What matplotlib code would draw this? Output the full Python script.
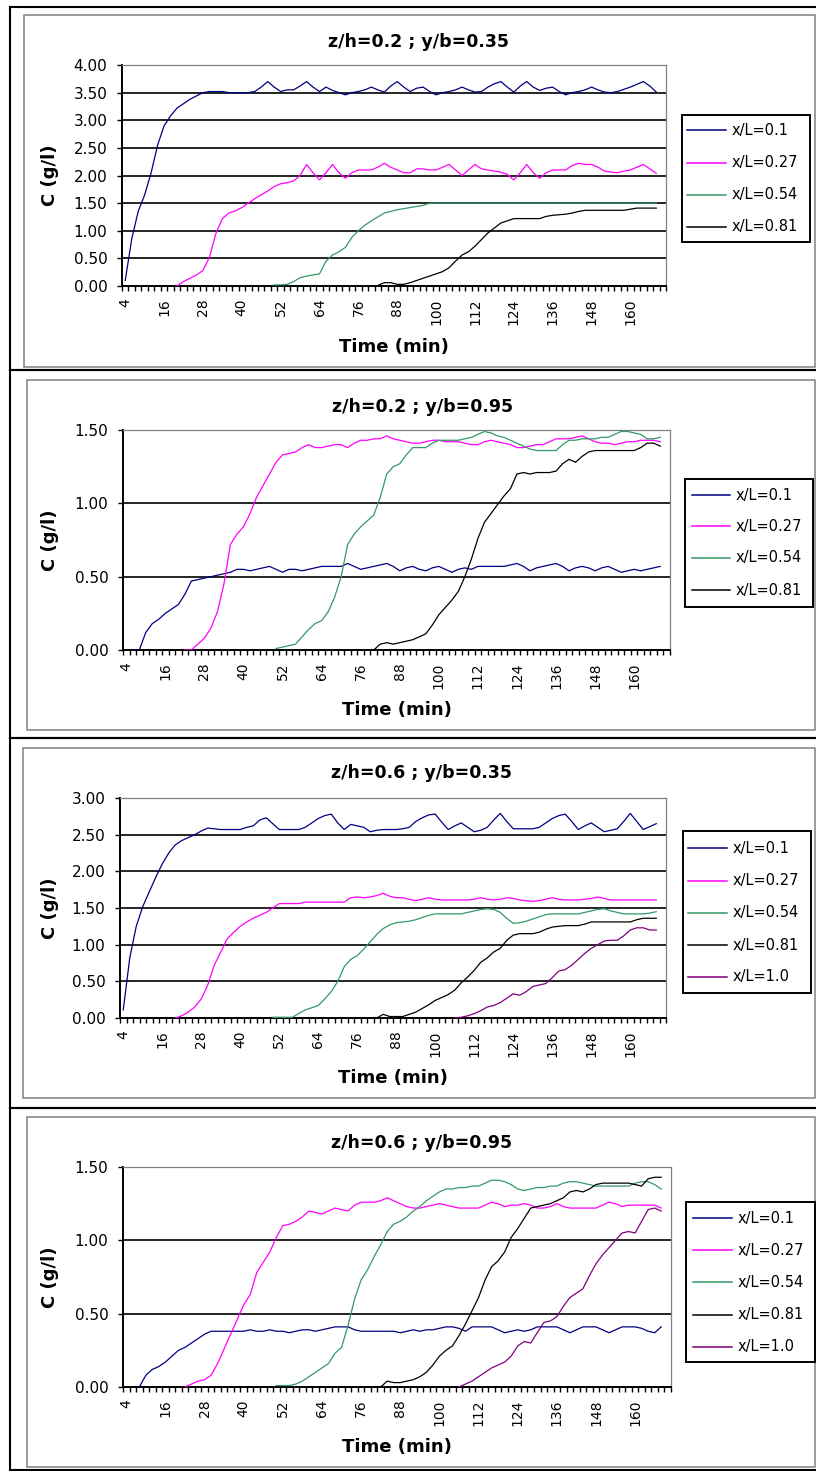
import matplotlib
matplotlib.use("Agg")
import matplotlib.pyplot as plt
from matplotlib.lines import Line2D
from matplotlib.patches import Rectangle

W, H, DPI = 816, 1471, 100

# Category axis: sampling every 2 minutes, labelled every 12 minutes
TIMES = list(range(4, 171, 2))
LABEL_EVERY = 6

SERIES_NAMES = ["x/L=0.1", "x/L=0.27", "x/L=0.54", "x/L=0.81", "x/L=1.0"]
COLORS = ["#000080", "#FF00FF", "#339966", "#000000", "#800080"]

# ---- z/h=0.2 ; y/b=0.35 -------------------------------------------------
P1_START = [4, 20, 50, 82]
P1_X01 = [0.10, 0.85, 1.35, 1.65, 2.05, 2.55, 2.90, 3.08, 3.22, 3.30,
          3.38, 3.44, 3.50, 3.52, 3.52, 3.52, 3.50, 3.50, 3.50, 3.50,
          3.52, 3.60, 3.70, 3.60, 3.52, 3.55, 3.55, 3.62, 3.70, 3.60,
          3.52, 3.60, 3.54, 3.50, 3.46, 3.50, 3.52, 3.55, 3.60, 3.55,
          3.51, 3.62, 3.70, 3.60, 3.52, 3.58, 3.60, 3.52, 3.46, 3.50,
          3.52, 3.55, 3.60, 3.55, 3.51, 3.52, 3.60, 3.66, 3.70, 3.60,
          3.51, 3.62, 3.70, 3.60, 3.54, 3.58, 3.60, 3.52, 3.46, 3.50,
          3.52, 3.55, 3.60, 3.55, 3.51, 3.50, 3.52, 3.56, 3.60, 3.65,
          3.70, 3.62, 3.51]
P1_X027 = [0.00, 0.08, 0.14, 0.20, 0.28, 0.52, 0.95, 1.22, 1.32, 1.36,
           1.42, 1.50, 1.58, 1.65, 1.72, 1.80, 1.85, 1.87, 1.90, 2.00,
           2.20, 2.05, 1.92, 2.05, 2.20, 2.05, 1.95, 2.05, 2.10, 2.10,
           2.10, 2.15, 2.22, 2.15, 2.10, 2.05, 2.05, 2.12, 2.12, 2.10,
           2.10, 2.15, 2.20, 2.10, 2.00, 2.10, 2.20, 2.12, 2.10, 2.08,
           2.06, 2.02, 1.92, 2.05, 2.20, 2.05, 1.95, 2.05, 2.10, 2.10,
           2.10, 2.18, 2.22, 2.20, 2.20, 2.15, 2.08, 2.06, 2.05, 2.08,
           2.10, 2.15, 2.20, 2.12, 2.04]
P1_X054 = [0.02, 0.02, 0.03, 0.08, 0.15, 0.18, 0.20, 0.22, 0.45, 0.56,
           0.62, 0.70, 0.88, 1.00, 1.10, 1.18, 1.25, 1.32, 1.35, 1.38,
           1.40, 1.42, 1.44, 1.46, 1.50, 1.50, 1.50, 1.50, 1.50, 1.50,
           1.50, 1.50, 1.50, 1.50, 1.50, 1.50, 1.50, 1.50, 1.50, 1.50,
           1.50, 1.50, 1.50, 1.50, 1.50, 1.50, 1.50, 1.50, 1.50, 1.50,
           1.50, 1.50, 1.50, 1.50, 1.50, 1.50, 1.50, 1.50, 1.50, 1.50]
P1_X081 = [0.01, 0.06, 0.06, 0.03, 0.03, 0.06, 0.10, 0.14, 0.18, 0.22,
           0.26, 0.33, 0.45, 0.56, 0.62, 0.72, 0.84, 0.96, 1.05, 1.14,
           1.18, 1.22, 1.22, 1.22, 1.22, 1.22, 1.26, 1.28, 1.29, 1.30,
           1.32, 1.35, 1.37, 1.37, 1.37, 1.37, 1.37, 1.37, 1.37, 1.39,
           1.41, 1.41, 1.41, 1.41]

# ---- z/h=0.2 ; y/b=0.95 -------------------------------------------------
P2_START = [6, 22, 50, 74]
P2_X01 = [0.00, 0.00, 0.12, 0.18, 0.21, 0.25, 0.28, 0.31, 0.38, 0.47,
          0.48, 0.49, 0.50, 0.51, 0.52, 0.53, 0.55, 0.55, 0.54, 0.55,
          0.56, 0.57, 0.55, 0.53, 0.55, 0.55, 0.54, 0.55, 0.56, 0.57,
          0.57, 0.57, 0.57, 0.59, 0.57, 0.55, 0.56, 0.57, 0.58, 0.59,
          0.57, 0.54, 0.56, 0.57, 0.55, 0.54, 0.56, 0.57, 0.55, 0.53,
          0.55, 0.56, 0.55, 0.57, 0.57, 0.57, 0.57, 0.57, 0.58, 0.59,
          0.57, 0.54, 0.56, 0.57, 0.58, 0.59, 0.57, 0.54, 0.56, 0.57,
          0.56, 0.54, 0.56, 0.57, 0.55, 0.53, 0.54, 0.55, 0.54, 0.55,
          0.56, 0.57]
P2_X027 = [0.00, 0.00, 0.04, 0.08, 0.15, 0.26, 0.45, 0.72, 0.79, 0.84,
           0.93, 1.04, 1.12, 1.20, 1.28, 1.33, 1.34, 1.35, 1.38, 1.40,
           1.38, 1.38, 1.39, 1.40, 1.40, 1.38, 1.41, 1.43, 1.43, 1.44,
           1.44, 1.46, 1.44, 1.43, 1.42, 1.41, 1.41, 1.42, 1.43, 1.43,
           1.42, 1.42, 1.42, 1.41, 1.40, 1.40, 1.42, 1.43, 1.42, 1.41,
           1.40, 1.38, 1.38, 1.39, 1.40, 1.40, 1.42, 1.44, 1.44, 1.44,
           1.45, 1.46, 1.44, 1.42, 1.41, 1.41, 1.40, 1.41, 1.42, 1.42,
           1.43, 1.43, 1.43, 1.42]
P2_X054 = [0.01, 0.02, 0.03, 0.04, 0.09, 0.14, 0.18, 0.20, 0.26, 0.36,
           0.50, 0.72, 0.79, 0.84, 0.88, 0.92, 1.04, 1.20, 1.25, 1.27,
           1.33, 1.38, 1.38, 1.38, 1.41, 1.43, 1.43, 1.43, 1.43, 1.44,
           1.45, 1.47, 1.49, 1.48, 1.46, 1.45, 1.43, 1.41, 1.39, 1.37,
           1.36, 1.36, 1.36, 1.36, 1.40, 1.43, 1.43, 1.44, 1.44, 1.44,
           1.45, 1.45, 1.47, 1.49, 1.49, 1.48, 1.47, 1.44, 1.44, 1.45]
P2_X081 = [0.00, 0.00, 0.00, 0.00, 0.04, 0.05, 0.04, 0.05, 0.06, 0.07,
           0.09, 0.11, 0.17, 0.24, 0.29, 0.34, 0.40, 0.50, 0.62, 0.76,
           0.87, 0.93, 0.99, 1.05, 1.10, 1.20, 1.21, 1.20, 1.21, 1.21,
           1.21, 1.22, 1.27, 1.30, 1.28, 1.32, 1.35, 1.36, 1.36, 1.36,
           1.36, 1.36, 1.36, 1.36, 1.38, 1.41, 1.41, 1.39]

# ---- z/h=0.6 ; y/b=0.35 -------------------------------------------------
P3_START = [4, 20, 50, 82, 106]
P3_X01 = [0.11, 0.82, 1.25, 1.52, 1.72, 1.92, 2.10, 2.25, 2.36, 2.42,
          2.46, 2.50, 2.55, 2.59, 2.58, 2.57, 2.57, 2.57, 2.57, 2.60,
          2.62, 2.70, 2.73, 2.65, 2.57, 2.57, 2.57, 2.57, 2.60, 2.66,
          2.72, 2.76, 2.78, 2.66, 2.57, 2.64, 2.62, 2.60, 2.54, 2.56,
          2.57, 2.57, 2.57, 2.58, 2.60, 2.68, 2.73, 2.77, 2.78, 2.67,
          2.57, 2.62, 2.66, 2.60, 2.54, 2.56, 2.60, 2.70, 2.79, 2.68,
          2.58, 2.58, 2.58, 2.58, 2.60, 2.66, 2.72, 2.76, 2.78, 2.68,
          2.57, 2.62, 2.66, 2.60, 2.54, 2.56, 2.58, 2.68, 2.79, 2.68,
          2.57, 2.61, 2.65]
P3_X027 = [0.00, 0.03, 0.08, 0.15, 0.26, 0.45, 0.72, 0.90, 1.08, 1.17,
           1.25, 1.31, 1.36, 1.40, 1.44, 1.50, 1.56, 1.56, 1.56, 1.56,
           1.58, 1.58, 1.58, 1.58, 1.58, 1.58, 1.58, 1.64, 1.65, 1.64,
           1.65, 1.67, 1.70, 1.66, 1.64, 1.64, 1.62, 1.60, 1.62, 1.64,
           1.62, 1.61, 1.61, 1.61, 1.61, 1.61, 1.62, 1.64, 1.62, 1.61,
           1.62, 1.64, 1.63, 1.61, 1.60, 1.59, 1.60, 1.62, 1.64, 1.62,
           1.61, 1.61, 1.61, 1.62, 1.63, 1.65, 1.63, 1.61, 1.61, 1.61,
           1.61, 1.61, 1.61, 1.61, 1.61]
P3_X054 = [0.01, 0.01, 0.01, 0.01, 0.06, 0.11, 0.14, 0.17, 0.26, 0.36,
           0.50, 0.70, 0.80, 0.85, 0.94, 1.04, 1.14, 1.22, 1.27, 1.30,
           1.31, 1.32, 1.34, 1.37, 1.40, 1.42, 1.42, 1.42, 1.42, 1.42,
           1.44, 1.46, 1.48, 1.49, 1.48, 1.44, 1.36, 1.29, 1.30, 1.32,
           1.35, 1.38, 1.41, 1.42, 1.42, 1.42, 1.42, 1.42, 1.44, 1.46,
           1.48, 1.49, 1.46, 1.44, 1.42, 1.42, 1.42, 1.42, 1.43, 1.45]
P3_X081 = [0.00, 0.05, 0.02, 0.02, 0.02, 0.05, 0.08, 0.13, 0.18, 0.24,
           0.28, 0.32, 0.38, 0.48, 0.56, 0.65, 0.76, 0.82, 0.90, 0.95,
           1.06, 1.13, 1.15, 1.15, 1.15, 1.17, 1.21, 1.24, 1.25, 1.26,
           1.26, 1.26, 1.28, 1.31, 1.31, 1.31, 1.31, 1.31, 1.31, 1.31,
           1.34, 1.36, 1.36, 1.36]
P3_X10 = [0.00, 0.01, 0.03, 0.06, 0.10, 0.15, 0.17, 0.21, 0.27, 0.33,
          0.31, 0.36, 0.43, 0.45, 0.47, 0.55, 0.64, 0.66, 0.72, 0.80,
          0.88, 0.95, 1.00, 1.05, 1.06, 1.06, 1.12, 1.20, 1.23, 1.23,
          1.20, 1.20]

# ---- z/h=0.6 ; y/b=0.95 -------------------------------------------------
P4_START = [8, 22, 50, 82, 106]
P4_X01 = [0.00, 0.08, 0.12, 0.14, 0.17, 0.21, 0.25, 0.27, 0.30, 0.33,
          0.36, 0.38, 0.38, 0.38, 0.38, 0.38, 0.38, 0.39, 0.38, 0.38,
          0.39, 0.38, 0.38, 0.37, 0.38, 0.39, 0.39, 0.38, 0.39, 0.40,
          0.41, 0.41, 0.41, 0.39, 0.38, 0.38, 0.38, 0.38, 0.38, 0.38,
          0.37, 0.38, 0.39, 0.38, 0.39, 0.39, 0.40, 0.41, 0.41, 0.40,
          0.38, 0.41, 0.41, 0.41, 0.41, 0.39, 0.37, 0.38, 0.39, 0.38,
          0.39, 0.41, 0.41, 0.41, 0.41, 0.39, 0.37, 0.39, 0.41, 0.41,
          0.41, 0.39, 0.37, 0.39, 0.41, 0.41, 0.41, 0.40, 0.38, 0.37,
          0.41]
P4_X027 = [0.00, 0.02, 0.04, 0.05, 0.08, 0.16, 0.26, 0.36, 0.46, 0.56,
           0.63, 0.78, 0.85, 0.92, 1.02, 1.10, 1.11, 1.13, 1.16, 1.20,
           1.19, 1.18, 1.20, 1.22, 1.21, 1.20, 1.24, 1.26, 1.26, 1.26,
           1.27, 1.29, 1.27, 1.25, 1.23, 1.22, 1.22, 1.23, 1.24, 1.25,
           1.24, 1.23, 1.22, 1.22, 1.22, 1.22, 1.24, 1.26, 1.25, 1.23,
           1.24, 1.24, 1.25, 1.24, 1.22, 1.22, 1.23, 1.25, 1.23, 1.22,
           1.22, 1.22, 1.22, 1.22, 1.24, 1.26, 1.25, 1.23, 1.24, 1.24,
           1.24, 1.24, 1.24, 1.22]
P4_X054 = [0.01, 0.01, 0.01, 0.02, 0.04, 0.07, 0.10, 0.13, 0.16, 0.23,
           0.27, 0.42, 0.60, 0.73, 0.80, 0.89, 0.97, 1.06, 1.11, 1.13,
           1.16, 1.20, 1.23, 1.27, 1.30, 1.33, 1.35, 1.35, 1.36, 1.36,
           1.37, 1.37, 1.39, 1.41, 1.41, 1.40, 1.38, 1.35, 1.34, 1.35,
           1.36, 1.36, 1.37, 1.37, 1.39, 1.40, 1.40, 1.39, 1.38, 1.37,
           1.37, 1.37, 1.37, 1.37, 1.37, 1.39, 1.40, 1.40, 1.38, 1.35]
P4_X081 = [0.00, 0.04, 0.03, 0.03, 0.04, 0.05, 0.07, 0.10, 0.15, 0.21,
           0.25, 0.28, 0.35, 0.43, 0.52, 0.61, 0.73, 0.82, 0.86, 0.92,
           1.02, 1.08, 1.15, 1.22, 1.23, 1.24, 1.25, 1.27, 1.29, 1.33,
           1.34, 1.33, 1.35, 1.38, 1.39, 1.39, 1.39, 1.39, 1.39, 1.38,
           1.37, 1.42, 1.43, 1.43]
P4_X10 = [0.00, 0.02, 0.04, 0.07, 0.10, 0.13, 0.15, 0.17, 0.21, 0.28,
          0.31, 0.30, 0.37, 0.44, 0.45, 0.48, 0.55, 0.61, 0.64, 0.67,
          0.76, 0.84, 0.90, 0.95, 1.00, 1.05, 1.06, 1.05, 1.13, 1.21,
          1.22, 1.20]

PANELS = [
    dict(title="z/h=0.2 ; y/b=0.35", ymax=4.0, start=P1_START,
         series=[P1_X01, P1_X027, P1_X054, P1_X081],
         plot=(122, 65, 666, 286), outer=(7, 370), inner=(24, 15, 815, 367),
         title_xy=(419, 42), xlabel_y=347,
         legend=(682, 115, 810, 242), rows=(130, 163, 195, 227), key=(687, 726)),
    dict(title="z/h=0.2 ; y/b=0.95", ymax=1.5, start=P2_START,
         series=[P2_X01, P2_X027, P2_X054, P2_X081],
         plot=(123, 430, 670, 650), outer=(370, 738), inner=(27, 380, 815, 730),
         title_xy=(423, 407), xlabel_y=710,
         legend=(685, 479, 813, 607), rows=(495, 526, 558, 590), key=(692, 730)),
    dict(title="z/h=0.6 ; y/b=0.35", ymax=3.0, start=P3_START,
         series=[P3_X01, P3_X027, P3_X054, P3_X081, P3_X10],
         plot=(120, 798, 666, 1018), outer=(738, 1108), inner=(23, 748, 815, 1098),
         title_xy=(421, 773), xlabel_y=1078,
         legend=(683, 831, 811, 993), rows=(848, 881, 913, 945, 977), key=(688, 727)),
    dict(title="z/h=0.6 ; y/b=0.95", ymax=1.5, start=P4_START,
         series=[P4_X01, P4_X027, P4_X054, P4_X081, P4_X10],
         plot=(123, 1167, 671, 1387), outer=(1108, 1470), inner=(27, 1117, 815, 1467),
         title_xy=(422, 1143), xlabel_y=1447,
         legend=(686, 1202, 815, 1362), rows=(1218, 1250, 1282, 1315, 1347), key=(693, 732)),
]


def fx(x):
    return x / W


def fy(y):
    return 1.0 - y / H


fig = plt.figure(figsize=(W / DPI, H / DPI), dpi=DPI)
fig.patch.set_facecolor("white")

FRAME_GREY = "#808080"
n_cat = len(TIMES)

for p in PANELS:
    # outer black box and inner grey chart-area frame
    top, bot = p["outer"]
    fig.add_artist(Line2D([fx(10), fx(W + 2)], [fy(top), fy(top)], color="black",
                          lw=1.5, transform=fig.transFigure))
    fig.add_artist(Line2D([fx(10), fx(W + 2)], [fy(bot), fy(bot)], color="black",
                          lw=1.5, transform=fig.transFigure))
    fig.add_artist(Line2D([fx(10), fx(10)], [fy(top), fy(bot)], color="black",
                          lw=1.5, transform=fig.transFigure))
    ix0, iy0, ix1, iy1 = p["inner"]
    fig.add_artist(Rectangle((fx(ix0), fy(iy1)), fx(ix1) - fx(ix0), fy(iy0) - fy(iy1),
                             fill=False, edgecolor=FRAME_GREY, lw=1.1,
                             transform=fig.transFigure))

    l, t, r, b = p["plot"]
    ax = fig.add_axes([fx(l), fy(b), fx(r) - fx(l), fy(t) - fy(b)])
    ax.set_facecolor("white")
    ax.set_xlim(-0.5, n_cat - 0.5)
    ax.set_ylim(0, p["ymax"])

    yt = [k * 0.5 for k in range(int(round(p["ymax"] / 0.5)) + 1)]
    for yv in yt[1:-1]:
        ax.axhline(yv, color="black", lw=1.2, zorder=1)

    for k, vals in enumerate(p["series"]):
        i0 = (p["start"][k] - TIMES[0]) // 2
        xs = list(range(i0, i0 + len(vals)))
        ax.plot(xs, vals, color=COLORS[k], lw=0.9, zorder=3, solid_joinstyle="miter")

    ax.set_yticks(yt)
    ax.set_yticklabels([f"{v:.2f}" for v in yt], fontsize=11)
    ax.tick_params(axis="y", direction="out", length=3.6, width=1.0, pad=7, color="black")

    lab_pos = list(range(0, n_cat, LABEL_EVERY))
    ax.set_xticks(lab_pos)
    ax.set_xticklabels([str(TIMES[i]) for i in lab_pos], rotation=90, fontsize=10)
    ax.set_xticks([i - 0.5 for i in range(n_cat + 1)], minor=True)
    ax.tick_params(axis="x", which="major", length=0, pad=9)
    ax.tick_params(axis="x", which="minor", direction="out", length=3.6, width=1.0,
                   color="black")

    for side in ("left", "bottom"):
        ax.spines[side].set_color("black")
        ax.spines[side].set_linewidth(1.4)
    for side in ("top", "right"):
        ax.spines[side].set_color(FRAME_GREY)
        ax.spines[side].set_linewidth(0.9)

    # chart title and axis titles
    tx, ty = p["title_xy"]
    fig.text(fx(tx), fy(ty), p["title"], ha="center", va="center",
             fontsize=12.5, fontweight="bold")
    fig.text(fx((l + r) / 2), fy(p["xlabel_y"]), "Time (min)", ha="center",
             va="center", fontsize=13, fontweight="bold")
    fig.text(fx(50), fy((t + b) / 2), "C (g/l)", ha="center", va="center",
             rotation=90, fontsize=13, fontweight="bold")

    # legend box
    lx0, ly0, lx1, ly1 = p["legend"]
    fig.add_artist(Rectangle((fx(lx0), fy(ly1)), fx(lx1) - fx(lx0), fy(ly0) - fy(ly1),
                             fill=True, facecolor="white", edgecolor="black", lw=1.4,
                             transform=fig.transFigure))
    kx0, kx1 = p["key"]
    for k, ry in enumerate(p["rows"]):
        fig.add_artist(Line2D([fx(kx0), fx(kx1)], [fy(ry), fy(ry)], color=COLORS[k],
                              lw=1.1, transform=fig.transFigure))
        fig.text(fx(kx1 + 6), fy(ry), SERIES_NAMES[k], ha="left", va="center",
                 fontsize=10.5)

fig.savefig("out.png", dpi=DPI, facecolor="white")
